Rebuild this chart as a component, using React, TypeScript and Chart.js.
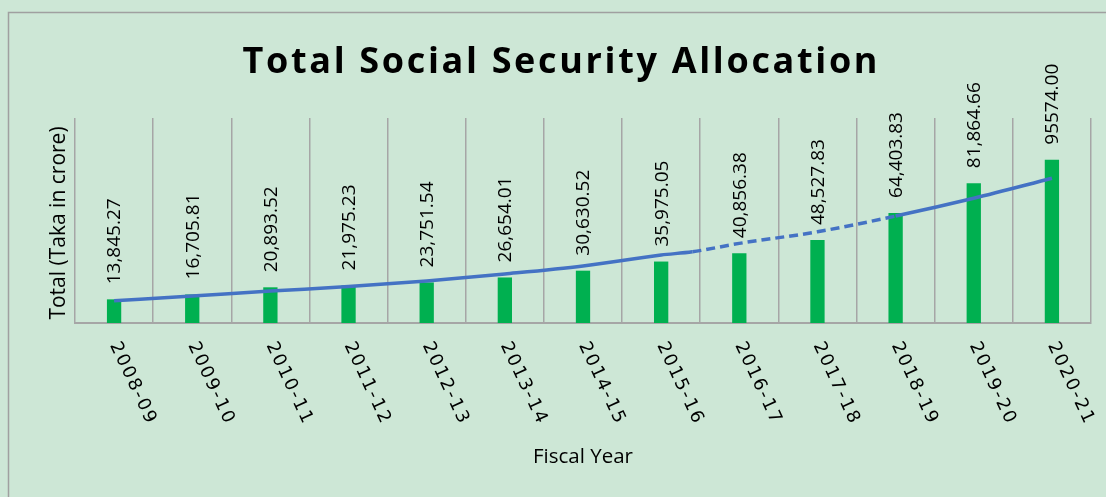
import React, { useEffect, useRef } from "react";
import { Chart, registerables } from "chart.js";

Chart.register(...registerables);

const TITLE = "Total Social Security Allocation";
const X_TITLE = "Fiscal Year";
const Y_TITLE = "Total (Taka in crore)";

const CATEGORIES = [
  "2008-09", "2009-10", "2010-11", "2011-12", "2012-13", "2013-14", "2014-15",
  "2015-16", "2016-17", "2017-18", "2018-19", "2019-20", "2020-21",
];
const ALLOCATION = [
  13845.27, 16705.81, 20893.52, 21975.23, 23751.54, 26654.01, 30630.52,
  35975.05, 40856.38, 48527.83, 64403.83, 81864.66, 95574.0,
];
const VALUE_LABELS = [
  "13,845.27", "16,705.81", "20,893.52", "21,975.23", "23,751.54", "26,654.01",
  "30,630.52", "35,975.05", "40,856.38", "48,527.83", "64,403.83", "81,864.66",
  "95574.00",
];
// trend line (positions in category index units)
const TREND_X = [0, 1, 2, 3, 4, 5, 6, 7, 7.4, 8, 9, 10, 11, 12];
const TREND_Y = [
  13000, 15800, 18700, 21300, 24600, 28700, 33400, 39800, 41700, 46600,
  53400, 62600, 73000, 84700,
];
const DASH_FROM = 7.4;
const DASH_TO = 10;

const BG = "#cde7d6";
const GRID = "#a6a6a6";

const decorPlugin = {
  id: "decor",
  beforeDraw(chart: any) {
    const ctx = chart.ctx;
    ctx.save();
    ctx.fillStyle = BG;
    ctx.fillRect(0, 0, chart.width, chart.height);
    ctx.strokeStyle = "#a0a0a0";
    ctx.lineWidth = 1.5;
    ctx.beginPath();
    ctx.moveTo(8.5, chart.height);
    ctx.lineTo(8.5, 12.5);
    ctx.lineTo(chart.width, 12.5);
    ctx.stroke();
    ctx.restore();
  },
  afterDraw(chart: any) {
    const ctx = chart.ctx;
    const xs = chart.scales.x;
    const ys = chart.scales.y;
    const area = chart.chartArea;

    // title
    ctx.save();
    ctx.fillStyle = "#000";
    ctx.font = 'bold 36px "Open Sans"';
    ctx.letterSpacing = "0px";
    const w0 = ctx.measureText(TITLE).width;
    const ls = (635 - w0) / (TITLE.length - 1);
    ctx.letterSpacing = ls + "px";
    ctx.textAlign = "left";
    ctx.textBaseline = "alphabetic";
    ctx.fillText(TITLE, 560 - 635 / 2, 73);
    ctx.restore();

    // value labels
    ctx.save();
    ctx.fillStyle = "#000";
    ctx.font = '19px "Open Sans"';
    ctx.textAlign = "left";
    ctx.textBaseline = "middle";
    ALLOCATION.forEach((v, i) => {
      const x = xs.getPixelForValue(i) + 1;
      const y = ys.getPixelForValue(v) - 15;
      ctx.save();
      ctx.translate(x, y);
      ctx.rotate(-Math.PI / 2);
      ctx.fillText(VALUE_LABELS[i], 0, 0);
      ctx.restore();
    });
    ctx.restore();

    // x tick labels
    ctx.save();
    ctx.fillStyle = "#000";
    ctx.font = '18px "DejaVu Sans"';
    ctx.letterSpacing = "2px";
    ctx.textAlign = "left";
    ctx.textBaseline = "middle";
    CATEGORIES.forEach((c, i) => {
      const x = xs.getPixelForValue(i);
      const y = area.bottom + 20;
      ctx.save();
      ctx.translate(x, y);
      ctx.rotate((65 * Math.PI) / 180);
      ctx.fillText(c, 0, 0);
      ctx.restore();
    });
    ctx.restore();

    // axis titles
    ctx.save();
    ctx.fillStyle = "#000";
    ctx.textAlign = "center";
    ctx.textBaseline = "middle";
    ctx.font = '20.5px "Open Sans"';
    ctx.fillText(X_TITLE, 583, 457);
    ctx.font = '21px "Open Sans"';
    ctx.translate(59, 223);
    ctx.rotate(-Math.PI / 2);
    ctx.fillText(Y_TITLE, 0, 0);
    ctx.restore();
  },
};

export default function App() {
  const ref = useRef<HTMLCanvasElement>(null);
  useEffect(() => {
    const canvas = ref.current!;
    const chart = new Chart(canvas, {
      type: "bar",
      data: {
        labels: CATEGORIES,
        datasets: [
          {
            type: "bar",
            data: ALLOCATION,
            backgroundColor: "#00b050",
            barPercentage: 0.183,
            categoryPercentage: 1,
            grouped: false,
            order: 1,
            xAxisID: "x",
          } as any,
          {
            type: "line",
            data: TREND_X.map((x, i) => ({ x, y: TREND_Y[i] })),
            xAxisID: "xt",
            borderColor: "#4472c4",
            borderWidth: 3.5,
            pointRadius: 0,
            cubicInterpolationMode: "monotone",
            fill: false,
            order: 0,
            segment: {
              borderDash: (c: any) =>
                c.p0.parsed.x >= DASH_FROM - 0.001 && c.p1.parsed.x <= DASH_TO + 0.001
                  ? [9, 5]
                  : undefined,
            },
          } as any,
        ],
      },
      options: {
        animation: false,
        responsive: false,
        devicePixelRatio: 1,
        layout: { padding: { left: 75, right: 15, top: 118, bottom: 174 } },
        plugins: { legend: { display: false }, tooltip: { enabled: false } },
        scales: {
          x: {
            type: "category",
            offset: true,
            grid: { offset: true, color: GRID, lineWidth: 1.5, drawTicks: false },
            border: { color: GRID, width: 2 },
            ticks: { display: false },
            afterFit: (s: any) => {
              s.height = 0;
            },
          },
          xt: {
            type: "linear",
            min: -0.5,
            max: 12.5,
            offset: false,
            display: false,
            grid: { offset: false },
          },
          y: { min: 0, max: 120000, display: false },
        },
      },
      plugins: [decorPlugin],
    });
    return () => chart.destroy();
  }, []);
  return (
    <div style={{ position: "fixed", left: 0, top: 0, width: 1106, height: 497, background: BG }}>
      <canvas ref={ref} width={1106} height={497} style={{ width: 1106, height: 497, display: "block" }} />
    </div>
  );
}
